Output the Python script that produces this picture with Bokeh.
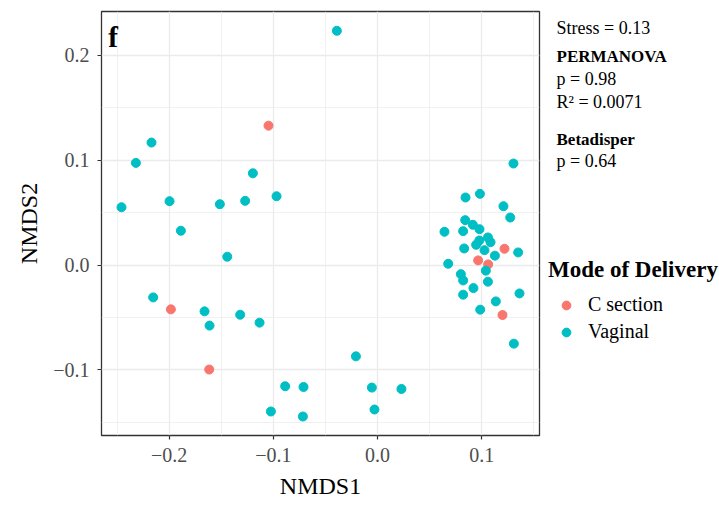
from bokeh.plotting import figure
from bokeh.layouts import row
from bokeh.models import (Range1d, FixedTicker, Label, Legend, LegendItem)
from bokeh.embed import file_html
from bokeh.resources import INLINE

# ---- data ----
csec_x = [-0.1046, -0.1983, -0.1615, 0.1219, 0.0966, 0.1062, 0.1200]
csec_y = [0.1330, -0.0422, -0.0996, 0.0156, 0.0045, 0.0007, -0.0476]

vag_x = [-0.0390, -0.2169, -0.2319, -0.1196, -0.0969, -0.2457, -0.1996, -0.1513,
         -0.1270, -0.1887, -0.1442, -0.2153, -0.1660, -0.1612, -0.1318, -0.1132,
         -0.0207, -0.0886, -0.0710, -0.1023, -0.0716, -0.0054, 0.0230, -0.0029,
         0.1305, 0.0845, 0.0983, 0.1209, 0.1274, 0.0842, 0.0915, 0.0979,
         0.0643, 0.0822, 0.1060, 0.1085, 0.0977, 0.0947, 0.0832, 0.1027,
         0.1350, 0.1127, 0.0679, 0.1040, 0.0800, 0.0822, 0.1060, 0.0921,
         0.0822, 0.1363, 0.1136, 0.0986, 0.1309]
vag_y = [0.2235, 0.1169, 0.0975, 0.0876, 0.0657, 0.0552, 0.0610, 0.0581,
         0.0613, 0.0328, 0.0080, -0.0308, -0.0441, -0.0577, -0.0473, -0.0549,
         -0.0870, -0.1155, -0.1162, -0.1396, -0.1444, -0.1168, -0.1181, -0.1377,
         0.0969, 0.0645, 0.0680, 0.0562, 0.0454, 0.0429, 0.0385, 0.0343,
         0.0318, 0.0324, 0.0264, 0.0219, 0.0235, 0.0194, 0.0159, 0.0143,
         0.0121, 0.0090, 0.0013, -0.0053, -0.0086, -0.0146, -0.0158, -0.0219,
         -0.0282, -0.0270, -0.0346, -0.0425, -0.0749]

groups = ["C section", "Vaginal"]
group_colors = ["#F8766D", "#00BFC4"]

x_ticks = [-0.2, -0.1, 0.0, 0.1]
x_tick_labels = ["\u22120.2", "\u22120.1", "0.0", "0.1"]
x_minor = [-0.25, -0.15, -0.05, 0.05, 0.15]
y_ticks = [-0.1, 0.0, 0.1, 0.2]
y_tick_labels = ["\u22120.1", "0.0", "0.1", "0.2"]
y_minor = [-0.15, -0.05, 0.05, 0.15]

stats_lines = ["Stress = 0.13", "PERMANOVA", "p = 0.98", "R\u00b2 = 0.0071",
               "Betadisper", "p = 0.64"]
stats_bold = [False, True, False, False, True, False]

FONT = "Liberation Serif"

# ---------------- main scatter panel ----------------
p = figure(width=545, height=508, output_backend="svg", toolbar_location=None,
           x_range=Range1d(-0.2649, 0.1555), y_range=Range1d(-0.1625, 0.2419),
           min_border_left=101, min_border_right=6, min_border_top=11,
           min_border_bottom=73, background_fill_color="white",
           border_fill_color="white")

r_c = p.scatter(csec_x, csec_y, size=9, fill_color=group_colors[0],
                line_color=group_colors[0])
r_v = p.scatter(vag_x, vag_y, size=9, fill_color=group_colors[1],
                line_color=group_colors[1])

p.xaxis.ticker = FixedTicker(ticks=x_ticks, minor_ticks=x_minor)
p.yaxis.ticker = FixedTicker(ticks=y_ticks, minor_ticks=y_minor)
p.xaxis.major_label_overrides = dict(zip(x_ticks, x_tick_labels))
p.yaxis.major_label_overrides = dict(zip(y_ticks, y_tick_labels))
p.xaxis.axis_label = "NMDS1"
p.yaxis.axis_label = "NMDS2"
for ax in (p.xaxis, p.yaxis):
    ax.axis_line_color = None
    ax.major_tick_line_color = "#333333"
    ax.major_tick_line_width = 1.2
    ax.major_tick_out = 4
    ax.major_tick_in = 0
    ax.minor_tick_line_color = None
    ax.major_label_text_font = FONT
    ax.major_label_text_font_size = "20px"
    ax.major_label_text_color = "#4D4D4D"
    ax.axis_label_text_font = FONT
    ax.axis_label_text_font_size = "24px"
    ax.axis_label_text_font_style = "normal"
    ax.axis_label_text_color = "black"
p.xaxis.major_label_standoff = 8
p.xaxis.axis_label_standoff = 8
p.yaxis.major_label_standoff = 8
p.yaxis.axis_label_standoff = 8

for g in (p.xgrid, p.ygrid):
    g.grid_line_color = "#EBEBEB"
    g.grid_line_width = 1.3
    g.minor_grid_line_color = "#EBEBEB"
    g.minor_grid_line_width = 0.7

p.outline_line_color = "#333333"
p.outline_line_width = 1.3

p.add_layout(Label(x=-0.2584, y=0.218, text="f", text_font=FONT,
                   text_font_size="29px", text_font_style="bold",
                   text_color="black", text_baseline="alphabetic"))

# ---------------- right side: statistics + legend ----------------
# the row aligns this panel's frame with the main frame (page y 11..435),
# so its ranges are the page's pixel coordinates of that frame
side = figure(width=174, height=508, output_backend="svg", toolbar_location=None,
              x_range=Range1d(545, 719), y_range=Range1d(435, 11),
              x_axis_location=None, y_axis_location=None,
              min_border=0, min_border_left=0, min_border_right=0,
              min_border_top=11, min_border_bottom=73,
              background_fill_color="white", border_fill_color="white")
side.outline_line_color = None
side.xgrid.visible = False
side.ygrid.visible = False

stats_baseline = [27, 56, 78, 101, 139, 160.5]
for txt, b, yy in zip(stats_lines, stats_bold, stats_baseline):
    side.add_layout(Label(x=556, y=yy, text=txt, text_font=FONT,
                          text_font_size="17px" if b else "18px",
                          text_font_style="bold" if b else "normal",
                          text_baseline="alphabetic", text_color="black"))

# legend key proxies: a single NaN point each, so nothing is drawn in the panel
nan = float("nan")
l_c = side.scatter(x=[nan], y=[nan], size=9, fill_color=group_colors[0],
                   line_color=group_colors[0])
l_v = side.scatter(x=[nan], y=[nan], size=9, fill_color=group_colors[1],
                   line_color=group_colors[1])

legend = Legend(items=[LegendItem(label=groups[0], renderers=[l_c]),
                       LegendItem(label=groups[1], renderers=[l_v])],
                title="Mode of Delivery", location=(3, 92))
legend.title_text_font = FONT
legend.title_text_font_size = "23px"
legend.title_text_font_style = "bold"
legend.title_text_color = "black"
legend.title_standoff = 10
legend.label_text_font = FONT
legend.label_text_font_size = "20px"
legend.label_text_color = "black"
legend.glyph_width = 36
legend.glyph_height = 22
legend.label_height = 22
legend.label_standoff = 4
legend.spacing = 4
legend.padding = 0
legend.margin = 0
legend.border_line_color = None
legend.background_fill_alpha = 0
side.add_layout(legend)

layout = row(p, side, spacing=0)
open("out.html", "w").write(file_html(layout, INLINE))
